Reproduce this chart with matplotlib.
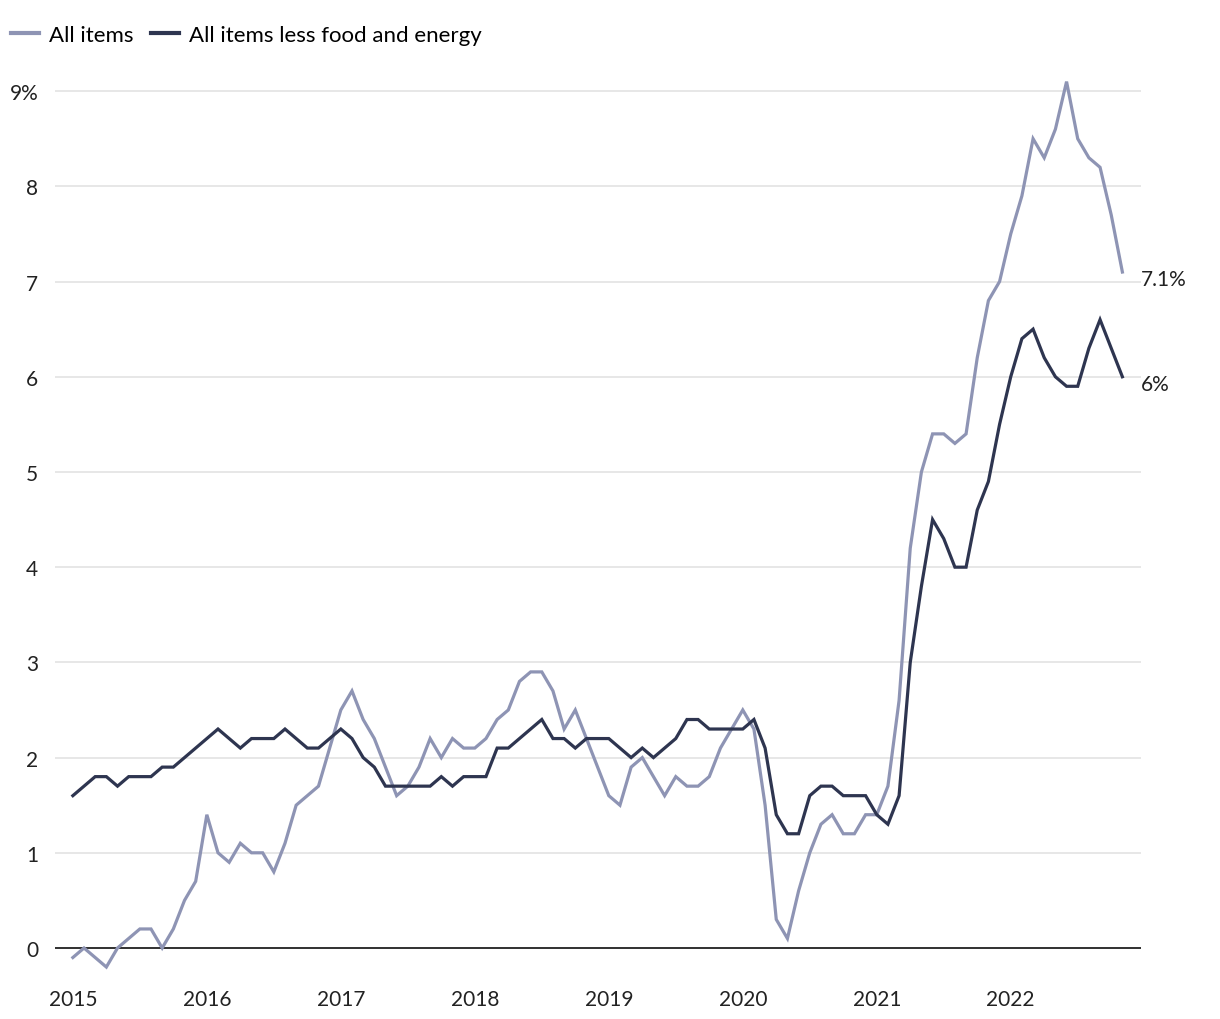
import numpy as np
import pandas as pd
import matplotlib
matplotlib.use("Agg")
import matplotlib.pyplot as plt

plt.rcParams['font.family'] = ['Lato', 'DejaVu Sans']

# monthly, Jan 2015 .. Nov 2022, 12-month % change
all_items = [
    -0.1, 0.0, -0.1, -0.2, 0.0, 0.1, 0.2, 0.2, 0.0, 0.2, 0.5, 0.7,
    1.4, 1.0, 0.9, 1.1, 1.0, 1.0, 0.8, 1.1, 1.5, 1.6, 1.7, 2.1,
    2.5, 2.7, 2.4, 2.2, 1.9, 1.6, 1.7, 1.9, 2.2, 2.0, 2.2, 2.1,
    2.1, 2.2, 2.4, 2.5, 2.8, 2.9, 2.9, 2.7, 2.3, 2.5, 2.2, 1.9,
    1.6, 1.5, 1.9, 2.0, 1.8, 1.6, 1.8, 1.7, 1.7, 1.8, 2.1, 2.3,
    2.5, 2.3, 1.5, 0.3, 0.1, 0.6, 1.0, 1.3, 1.4, 1.2, 1.2, 1.4,
    1.4, 1.7, 2.6, 4.2, 5.0, 5.4, 5.4, 5.3, 5.4, 6.2, 6.8, 7.0,
    7.5, 7.9, 8.5, 8.3, 8.6, 9.1, 8.5, 8.3, 8.2, 7.7, 7.1,
]
core = [
    1.6, 1.7, 1.8, 1.8, 1.7, 1.8, 1.8, 1.8, 1.9, 1.9, 2.0, 2.1,
    2.2, 2.3, 2.2, 2.1, 2.2, 2.2, 2.2, 2.3, 2.2, 2.1, 2.1, 2.2,
    2.3, 2.2, 2.0, 1.9, 1.7, 1.7, 1.7, 1.7, 1.7, 1.8, 1.7, 1.8,
    1.8, 1.8, 2.1, 2.1, 2.2, 2.3, 2.4, 2.2, 2.2, 2.1, 2.2, 2.2,
    2.2, 2.1, 2.0, 2.1, 2.0, 2.1, 2.2, 2.4, 2.4, 2.3, 2.3, 2.3,
    2.3, 2.4, 2.1, 1.4, 1.2, 1.2, 1.6, 1.7, 1.7, 1.6, 1.6, 1.6,
    1.4, 1.3, 1.6, 3.0, 3.8, 4.5, 4.3, 4.0, 4.0, 4.6, 4.9, 5.5,
    6.0, 6.4, 6.5, 6.2, 6.0, 5.9, 5.9, 6.3, 6.6, 6.3, 6.0,
]
years = list(range(2015, 2023))
yticks = list(range(0, 10))
ylabels = ['0', '1', '2', '3', '4', '5', '6', '7', '8', '9%']

months = pd.date_range('2015-01-01', periods=len(all_items), freq='MS')
x = months.year + (months.month - 1) / 12.0

light = '#8e94b4'
dark = '#2e3550'

fig = plt.figure(figsize=(12.2, 10.2), dpi=100)
ax = fig.add_axes([0.045, 0.0416, 0.89, 0.8914])

ax.plot(x, all_items, color=light, lw=2.3, label='All items', solid_joinstyle='miter')
ax.plot(x, core, color=dark, lw=2.3, label='All items less food and energy', solid_joinstyle='miter')

ax.set_xlim(2015 - 0.134, 2022.97)
ax.set_ylim(-0.3, 9.25)

ax.set_yticks(yticks, labels=ylabels)
ax.set_xticks(years, labels=[str(y) for y in years])
ax.tick_params(axis='both', length=0, labelsize=15, labelcolor='#222222')
ax.tick_params(axis='y', pad=12)
ax.tick_params(axis='x', pad=9)
for lab in ax.get_yticklabels():
    lab.set_horizontalalignment('right')

ax.grid(axis='y', color='#e3e3e3', lw=1.2)
ax.set_axisbelow(True)
ax.axhline(0, color='#222222', lw=1.3, zorder=1.5)
for s in ax.spines.values():
    s.set_visible(False)

ax.annotate('7.1%', (x[-1], all_items[-1]), xytext=(13, -5), textcoords='offset points',
            va='center', ha='left', fontsize=15, color='#222222')
ax.annotate('6%', (x[-1], core[-1]), xytext=(13, -5), textcoords='offset points',
            va='center', ha='left', fontsize=15, color='#222222')

leg = fig.legend(loc='upper left', bbox_to_anchor=(0.009, 0.975), ncol=2, frameon=False,
                 fontsize=16, handlelength=1.25, handletextpad=0.45, columnspacing=0.8,
                 borderpad=0, borderaxespad=0)
for h in leg.get_lines():
    h.set_linewidth(3)

fig.savefig('out.png', dpi=100)
